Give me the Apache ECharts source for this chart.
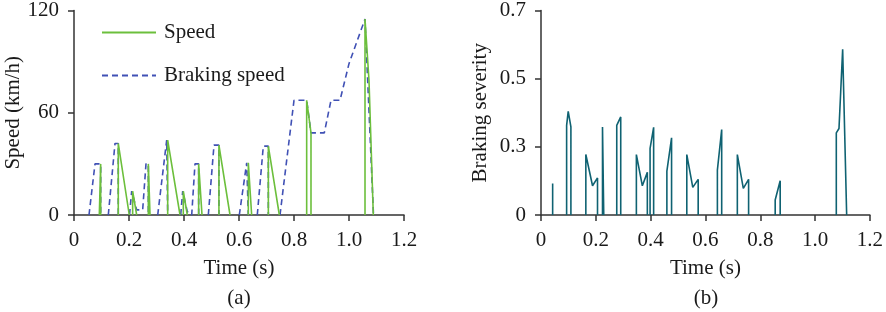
<!DOCTYPE html>
<html>
<head>
<meta charset="utf-8">
<script src="https://cdn.jsdelivr.net/npm/echarts@6/dist/echarts.min.js"></script>
<style>
html, body { margin: 0; padding: 0; background: #fff; }
#chart { width: 886px; height: 312px; }
</style>
</head>
<body>
<div id="chart"></div>
<script>
// 速度 (a): each event is one spike of the green line, [time s, km/h]
var speedEvents = [
    [[0.092, 0], [0.097, 30], [0.097, 0]],
    [[0.161, 0], [0.161, 42], [0.201, 0]],
    [[0.2133, 0], [0.2133, 14], [0.2279, 0]],
    [[0.2703, 0], [0.2703, 30], [0.2764, 0]],
    [[0.3407, 0], [0.3407, 44], [0.3855, 0]],
    [[0.3975, 0], [0.3975, 14], [0.412, 0]],
    [[0.4533, 0], [0.4533, 30], [0.4655, 0]],
    [[0.527, 0], [0.527, 41], [0.5673, 0]],
    [[0.6339, 0], [0.6339, 30.6], [0.646, 0]],
    [[0.7067, 0], [0.7067, 40.4], [0.7467, 0]],
    [[0.8461, 0], [0.8461, 67.3], [0.8618, 48.2], [0.8618, 0]],
    [[1.0582, 0], [1.0582, 115], [1.0727, 79], [1.0884, 0]]
];

// braking speed (dashed blue)
var brakingSegs = [
    [[0.0545, 0], [0.0764, 30], [0.097, 30], [0.097, 0]],
    [[0.1247, 0], [0.1491, 42], [0.161, 42], [0.161, 0]],
    [[0.2018, 0], [0.2098, 14], [0.2133, 14], [0.2279, 3], [0.2497, 3], [0.2618, 30], [0.2703, 30], [0.2703, 0]],
    [[0.3044, 0], [0.3371, 44], [0.3407, 44], [0.3407, 0]],
    [[0.388, 0], [0.3953, 14], [0.3975, 14], [0.412, 2], [0.428, 0], [0.44, 30], [0.4533, 30], [0.4533, 0]],
    [[0.4884, 0], [0.5091, 41], [0.527, 41], [0.527, 0]],
    [[0.6011, 0], [0.628, 30.6], [0.6339, 30.6], [0.6339, 0]],
    [[0.6665, 0], [0.6884, 40.4], [0.7067, 40.4], [0.7067, 0]],
    [[0.7491, 0], [0.8, 67.3], [0.8461, 67.3], [0.8618, 48.2], [0.9102, 48.2], [0.9345, 67.3],
     [0.9673, 67.3], [1.0, 88.8], [1.0582, 115], [1.0891, 0]]
];

// braking severity (b)
var severityEvents = [
    [[0.0425, 0], [0.0425, 0.108], [0.0425, 0]],
    [[0.0935, 0], [0.0935, 0.307], [0.0993, 0.355], [0.1091, 0.3015], [0.1091, 0]],
    [[0.1636, 0], [0.1636, 0.207], [0.188, 0.100], [0.2062, 0.127], [0.2062, 0]],
    [[0.2244, 0], [0.2244, 0.3015], [0.229, 0]],
    [[0.2764, 0], [0.2764, 0.307], [0.2909, 0.3357], [0.2909, 0]],
    [[0.348, 0], [0.348, 0.207], [0.3698, 0.100], [0.388, 0.146], [0.388, 0]],
    [[0.398, 0], [0.398, 0.228], [0.411, 0.300], [0.411, 0]],
    [[0.4593, 0], [0.4593, 0.150], [0.4764, 0.264], [0.4764, 0]],
    [[0.532, 0], [0.532, 0.207], [0.5538, 0.0946], [0.5735, 0.122], [0.5735, 0]],
    [[0.6436, 0], [0.6436, 0.1537], [0.6593, 0.2926], [0.6593, 0]],
    [[0.7164, 0], [0.7164, 0.207], [0.7382, 0.091], [0.7575, 0.122], [0.7575, 0]],
    [[0.8545, 0], [0.8545, 0.0512], [0.8727, 0.117], [0.8727, 0]],
    [[1.0775, 0], [1.0775, 0.281], [1.0873, 0.296], [1.0935, 0.3015], [1.0935, 0.421],
     [1.0971, 0.424], [1.1007, 0.567], [1.1153, 0]]
];

var speedTicks = [0, 60, 120];
var severityTicks = ['0', '0.3', '0.5', '0.7'];

var FONT = '"Liberation Serif", "Times New Roman", serif';
var TXT = '#1a1a1a';
var AX = '#333';

// join segments with a gap so the line does not run along the axis
function joinSegs(segs) {
    var out = [];
    segs.forEach(function (s, i) {
        if (i) out.push([s[0][0], '-']);
        out = out.concat(s);
    });
    return out;
}

function xAxisOpt(gi) {
    return {
        type: 'value', gridIndex: gi, min: 0, max: 1.2, interval: 0.2,
        name: 'Time (s)', nameLocation: 'middle', nameGap: 43,
        nameTextStyle: { fontFamily: FONT, fontSize: 21, color: TXT },
        axisLine: { show: true, onZero: false, lineStyle: { color: AX, width: 1.5 } },
        axisTick: { show: true, length: 6, lineStyle: { color: AX, width: 1.5 } },
        axisLabel: {
            margin: 15, fontFamily: FONT, fontSize: 21, color: TXT,
            formatter: function (v) { return v === 0 ? '0' : v.toFixed(1); }
        },
        splitLine: { show: false }
    };
}

var myChart = echarts.init(document.getElementById('chart'));

var option = {
    animation: false,
    backgroundColor: '#fff',
    grid: [
        { left: 74, top: 10, width: 330, height: 205 },
        { left: 541, top: 10, width: 330, height: 205 }
    ],
    legend: {
        orient: 'vertical', left: 96, top: 17, itemGap: 22,
        itemWidth: 54, itemHeight: 14,
        itemStyle: { opacity: 0 },
        textStyle: { fontFamily: FONT, fontSize: 21, color: TXT, padding: [0, 0, 0, 3] },
        data: ['Speed', 'Braking speed']
    },
    xAxis: [xAxisOpt(0), xAxisOpt(1)],
    yAxis: [
        {
            type: 'value', gridIndex: 0, min: speedTicks[0], max: speedTicks[2], interval: 60,
            name: 'Speed (km/h)', nameLocation: 'middle', nameGap: 48,
            nameTextStyle: { fontFamily: FONT, fontSize: 21, color: TXT },
            axisLine: { show: true, lineStyle: { color: AX, width: 1.5 } },
            axisTick: { show: true, length: 6, lineStyle: { color: AX, width: 1.5 } },
            axisLabel: { margin: 15, fontFamily: FONT, fontSize: 21, color: TXT },
            splitLine: { show: false }
        },
        {
            type: 'value', gridIndex: 1, min: 0, max: 0.7, interval: 0.7 / 3,
            name: 'Braking severity', nameLocation: 'middle', nameGap: 50,
            nameTextStyle: { fontFamily: FONT, fontSize: 21, color: TXT },
            axisLine: { show: true, lineStyle: { color: AX, width: 1.5 } },
            axisTick: { show: true, length: 6, lineStyle: { color: AX, width: 1.5 } },
            axisLabel: {
                margin: 15, fontFamily: FONT, fontSize: 21, color: TXT,
                formatter: function (v) { return severityTicks[Math.round(v / (0.7 / 3))]; }
            },
            splitLine: { show: false }
        }
    ],
    graphic: [
        { type: 'text', x: 239, y: 298, style: { text: '(a)', align: 'center', verticalAlign: 'middle', font: '21px ' + FONT, fill: TXT } },
        { type: 'text', x: 706, y: 298, style: { text: '(b)', align: 'center', verticalAlign: 'middle', font: '21px ' + FONT, fill: TXT } }
    ],
    series: [
        {
            name: 'Speed', type: 'line', xAxisIndex: 0, yAxisIndex: 0, z: 4,
            symbol: 'none', connectNulls: false,
            lineStyle: { color: '#6cbf3c', width: 1.6 },
            itemStyle: { color: '#6cbf3c' },
            data: joinSegs(speedEvents)
        },
        {
            name: 'Braking speed', type: 'line', xAxisIndex: 0, yAxisIndex: 0, z: 3,
            symbol: 'none', connectNulls: false,
            lineStyle: { color: '#4051b5', width: 1.6, type: [6, 4] },
            itemStyle: { color: '#4051b5' },
            data: joinSegs(brakingSegs)
        },
        {
            name: 'Braking severity', type: 'line', xAxisIndex: 1, yAxisIndex: 1,
            symbol: 'none', connectNulls: false,
            lineStyle: { color: '#0f6272', width: 1.6 },
            data: joinSegs(severityEvents)
        }
    ]
};

myChart.setOption(option);
</script>
</body>
</html>
